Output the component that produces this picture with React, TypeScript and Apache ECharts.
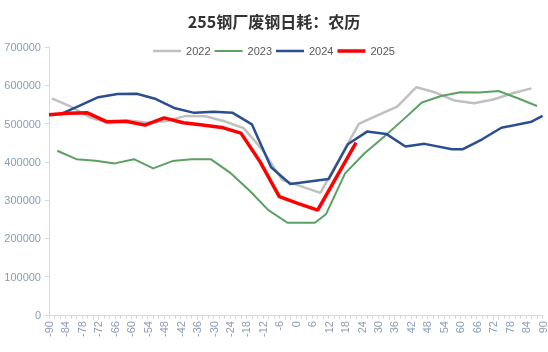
import React, { useEffect, useRef } from "react";
import * as echarts from "echarts";

const title = "255钢厂废钢日耗：农历";
const seriesNames = ["2022", "2023", "2024", "2025"];

const x2022 = [-89, -82, -75, -68, -61, -54, -47, -40, -33, -26, -19, -12, -5, 9, 23, 30, 37, 44, 51, 58, 65, 72, 79, 86];
const y2022 = [566000, 544000, 516000, 501000, 508000, 502000, 507000, 520000, 519000, 506000, 488000, 430000, 353000, 319000, 499000, 522000, 544000, 595000, 581000, 560000, 553000, 563000, 579000, 592000];

const x2023 = [-87, -80, -73, -66, -59, -52, -45, -38, -31, -24, -17, -10, -3, 7, 11, 18, 25, 32, 39, 46, 53, 60, 67, 74, 81, 88];
const y2023 = [429000, 407000, 403000, 396000, 407000, 383000, 402000, 407000, 407000, 372000, 326000, 274000, 241000, 241000, 263000, 370000, 422000, 464000, 509000, 555000, 572000, 582000, 581000, 585000, 566000, 546000];

const x2024 = [-86, -79, -72, -65, -58, -51, -44, -37, -30, -23, -16, -9, -2, 12, 19, 26, 33, 40, 47, 57, 61, 68, 75, 86, 90];
const y2024 = [524000, 546000, 569000, 577000, 578000, 564000, 540000, 528000, 531000, 528000, 498000, 386000, 342000, 355000, 446000, 479000, 473000, 440000, 447000, 433000, 433000, 459000, 489000, 505000, 520000];

const x2025 = [-90, -83, -76, -69, -62, -55, -48, -41, -34, -27, -20, -13, -6, 1, 8, 15, 22];
const y2025 = [523000, 527000, 528000, 505000, 506000, 496000, 515000, 502000, 496000, 490000, 475000, 400000, 309000, 291000, 274000, 362000, 450000];

const colors = ["#c0c0c0", "#5aa163", "#2b4f8e", "#ff0000"];
const widths = [2.5, 2, 2.5, 3.5];

const pair = (xs: number[], ys: number[]) => xs.map((x, i) => [x, ys[i]]);

const lineIcon = (w: number) => {
  const a = 7 - w / 2;
  const b = 7 + w / 2;
  return `path://M0,0L0.01,0L0.01,0.01ZM0,${a}L28,${a}L28,${b}L0,${b}ZM27.99,14L28,14L28,13.99Z`;
};

export default function App() {
  const ref = useRef<HTMLDivElement>(null);
  useEffect(() => {
    if (!ref.current) return;
    const chart = echarts.init(ref.current, null, { renderer: "svg" });
    const data = [pair(x2022, y2022), pair(x2023, y2023), pair(x2024, y2024), pair(x2025, y2025)];
    const labelColor = "#8a9db8";
    chart.setOption({
      animation: false,
      title: {
        text: title,
        left: "center",
        top: 8,
        textStyle: { fontSize: 16, fontWeight: "bold", color: "#333333", fontFamily: "Noto Sans CJK SC" },
      },
      legend: {
        data: seriesNames.map((name, i) => ({
          name,
          icon: lineIcon(widths[i]),
          itemStyle: { color: colors[i] },
        })),
        top: 39,
        left: "center",
        itemWidth: 28,
        itemHeight: 14,
        itemGap: 4,
        textStyle: { fontSize: 11, color: "#595959", fontFamily: "Liberation Sans" },
      },
      grid: { left: 49, right: 3, top: 47, bottom: 37, containLabel: false },
      xAxis: {
        type: "value",
        min: -90,
        max: 90,
        interval: 6,
        axisLine: { show: true, onZero: false, lineStyle: { color: "#d9d9d9" } },
        axisTick: { show: true, length: 4, lineStyle: { color: "#d9d9d9" } },
        minorTick: { show: true, splitNumber: 3, length: 4, lineStyle: { color: "#d9d9d9" } },
        splitLine: { show: false },
        axisLabel: { rotate: 90, fontSize: 11, color: labelColor, margin: 6, fontFamily: "Liberation Sans" },
      },
      yAxis: {
        type: "value",
        min: 0,
        max: 700000,
        interval: 100000,
        axisLine: { show: true, onZero: false, lineStyle: { color: "#d9d9d9" } },
        axisTick: { show: true, length: 4, lineStyle: { color: "#d9d9d9" } },
        splitLine: { show: false },
        axisLabel: {
          fontSize: 11,
          color: labelColor,
          margin: 8,
          fontFamily: "Liberation Sans",
          formatter: (v: number) => String(v),
        },
      },
      series: seriesNames.map((name, i) => ({
        name,
        type: "line",
        data: data[i],
        symbol: "none",
        showSymbol: false,
        smooth: false,
        z: i + 2,
        itemStyle: { color: colors[i] },
        lineStyle: { color: colors[i], width: widths[i] },
      })),
    });
    return () => chart.dispose();
  }, []);
  return <div ref={ref} style={{ position: "fixed", left: 0, top: 0, width: 548, height: 352 }} />;
}
